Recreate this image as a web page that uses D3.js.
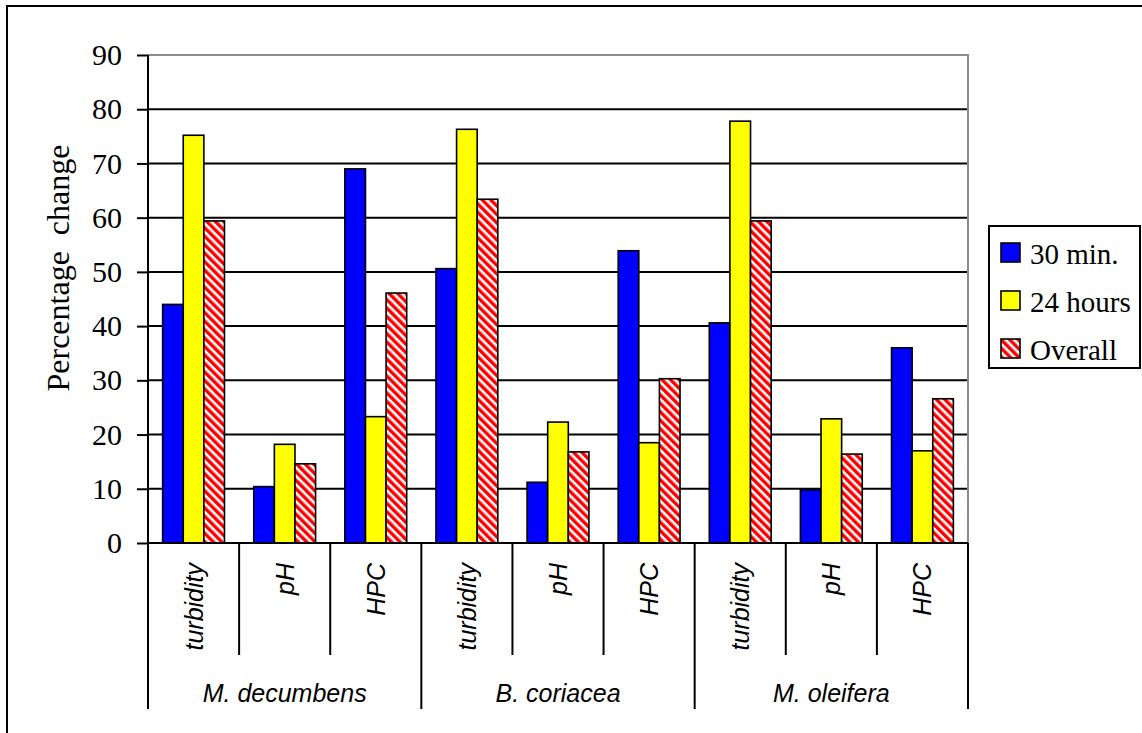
<!DOCTYPE html>
<html>
<head>
<meta charset="utf-8">
<script src="https://cdn.jsdelivr.net/npm/d3@7"></script>
<style>
  html, body { margin: 0; padding: 0; background: #fff; }
  svg { display: block; }
</style>
</head>
<body>
<svg id="chart" width="1142" height="733"></svg>
<script>
// Species (outer category level) and measured parameters (inner level)
const species = ["M. decumbens", "B. coriacea", "M. oleifera"];
const params = ["turbidity", "pH", "HPC"];
const seriesNames = ["30 min.", "24 hours", "Overall"];
const yTicks = [0, 10, 20, 30, 40, 50, 60, 70, 80, 90];

// Percentage change, ordered species by species, parameter by parameter
const min30 = [44.0, 10.4, 69.0, 50.6, 11.2, 53.9, 40.6, 9.8, 36.0];
const hours24 = [75.2, 18.2, 23.3, 76.3, 22.3, 18.5, 77.8, 22.9, 17.0];
const overall = [59.4, 14.6, 46.1, 63.4, 16.8, 30.3, 59.4, 16.4, 26.6];

const seriesValues = [min30, hours24, overall];
const fills = ["#0000ff", "#ffff00", "url(#stripes)"];

const svg = d3.select("#chart");
const W = 1142, H = 733;
const plot = { left: 148, top: 55, right: 968, bottom: 543 };

// Diagonal red/white stripes for the "Overall" series
const defs = svg.append("defs");
const pat = defs.append("pattern")
  .attr("id", "stripes")
  .attr("patternUnits", "userSpaceOnUse")
  .attr("width", 6).attr("height", 6)
  .attr("patternTransform", "rotate(-45)");
pat.append("rect").attr("width", 6).attr("height", 6).attr("fill", "#ffffff");
pat.append("rect").attr("width", 3.4).attr("height", 6).attr("fill", "#ff0000");

// Outer frame
svg.append("rect")
  .attr("x", 7).attr("y", 6)
  .attr("width", W + 20).attr("height", H + 20)
  .attr("fill", "none").attr("stroke", "#000").attr("stroke-width", 2);

// Combined category keys: one slot per species/parameter pair
const keys = [];
species.forEach(s => params.forEach(p => keys.push(s + "|" + p)));

const x0 = d3.scaleBand().domain(keys).range([plot.left, plot.right]).padding(0);
const x1 = d3.scaleBand().domain(seriesNames).range([0, x0.bandwidth()])
  .paddingInner(0).paddingOuter(0.71);
const y = d3.scaleLinear().domain([0, 90]).range([plot.bottom, plot.top]);

// Horizontal gridlines
svg.append("g")
  .selectAll("line")
  .data(yTicks.filter(t => t > 0 && t < 90))
  .join("line")
  .attr("x1", plot.left).attr("x2", plot.right)
  .attr("y1", d => y(d)).attr("y2", d => y(d))
  .attr("stroke", "#000").attr("stroke-width", 2);

// Plot area border (top and right in grey)
svg.append("path")
  .attr("d", `M${plot.left},${plot.top}H${plot.right}V${plot.bottom}`)
  .attr("fill", "none").attr("stroke", "#8c8c8c").attr("stroke-width", 2);

// Bars
const barData = [];
keys.forEach((k, i) => {
  seriesNames.forEach((s, j) => {
    barData.push({ key: k, series: s, value: seriesValues[j][i], fill: fills[j] });
  });
});

svg.append("g")
  .selectAll("rect")
  .data(barData)
  .join("rect")
  .attr("x", d => x0(d.key) + x1(d.series))
  .attr("y", d => y(d.value))
  .attr("width", x1.bandwidth())
  .attr("height", d => y(0) - y(d.value))
  .attr("fill", d => d.fill)
  .attr("stroke", "#000")
  .attr("stroke-width", 1.6);

// Value axis
const yAxis = d3.axisLeft(y).tickValues(yTicks).tickSize(11).tickPadding(15).tickSizeOuter(0);
const gy = svg.append("g").attr("transform", `translate(${plot.left},0)`).call(yAxis);
gy.select(".domain").remove();
gy.selectAll(".tick line").attr("stroke", "#000").attr("stroke-width", 2);
gy.selectAll(".tick text")
  .attr("font-family", "'Liberation Serif', 'Times New Roman', serif")
  .attr("font-size", 30)
  .attr("fill", "#000");

// Vertical axis line extends down through the category labels
svg.append("line")
  .attr("x1", plot.left).attr("x2", plot.left)
  .attr("y1", plot.top).attr("y2", 709)
  .attr("stroke", "#000").attr("stroke-width", 2);

// Category axis baseline
svg.append("line")
  .attr("x1", plot.left).attr("x2", plot.right)
  .attr("y1", plot.bottom).attr("y2", plot.bottom)
  .attr("stroke", "#000").attr("stroke-width", 2);

// Dividers between parameters (short) and species (long)
const boundaries = keys.map((k, i) => ({ x: x0(k) + x0.bandwidth(), i: i + 1 }));
svg.append("g")
  .selectAll("line")
  .data(boundaries)
  .join("line")
  .attr("x1", d => d.x).attr("x2", d => d.x)
  .attr("y1", plot.bottom)
  .attr("y2", d => (d.i % params.length === 0) ? 709 : 655)
  .attr("stroke", "#000").attr("stroke-width", 2);

// Parameter labels, rotated
svg.append("g")
  .selectAll("text")
  .data(keys)
  .join("text")
  .attr("transform", d => `translate(${x0(d) + x0.bandwidth() / 2 + 9},563) rotate(-90)`)
  .attr("text-anchor", "end")
  .attr("font-family", "'Liberation Sans', Arial, sans-serif")
  .attr("font-style", "italic")
  .attr("font-size", 25)
  .attr("fill", "#000")
  .text(d => d.split("|")[1]);

// Species labels
svg.append("g")
  .selectAll("text")
  .data(species)
  .join("text")
  .attr("x", (d, i) => (x0(d + "|" + params[0]) + x0(d + "|" + params[2]) + x0.bandwidth()) / 2)
  .attr("y", 702)
  .attr("text-anchor", "middle")
  .attr("font-family", "'Liberation Sans', Arial, sans-serif")
  .attr("font-style", "italic")
  .attr("font-size", 25)
  .attr("fill", "#000")
  .text(d => d);

// Y axis title
svg.append("text")
  .attr("transform", "translate(69,268) rotate(-90)")
  .attr("text-anchor", "middle")
  .attr("font-family", "'Liberation Serif', 'Times New Roman', serif")
  .attr("font-size", 32)
  .attr("fill", "#000")
  .style("white-space", "pre")
  .text("Percentage  change");

// Legend
const lg = svg.append("g");
lg.append("rect")
  .attr("x", 989).attr("y", 226).attr("width", 151).attr("height", 142)
  .attr("fill", "#fff").attr("stroke", "#000").attr("stroke-width", 2);
const items = lg.selectAll("g.item")
  .data(seriesNames)
  .join("g")
  .attr("class", "item")
  .attr("transform", (d, i) => `translate(0,${i * 48})`);
items.append("rect")
  .attr("x", 1001).attr("y", 243).attr("width", 19).attr("height", 19)
  .attr("fill", (d, i) => fills[i])
  .attr("stroke", "#000").attr("stroke-width", 1.6);
items.append("text")
  .attr("x", 1030).attr("y", 264)
  .attr("font-family", "'Liberation Serif', 'Times New Roman', serif")
  .attr("font-size", 29)
  .attr("fill", "#000")
  .text(d => d);
</script>
</body>
</html>
